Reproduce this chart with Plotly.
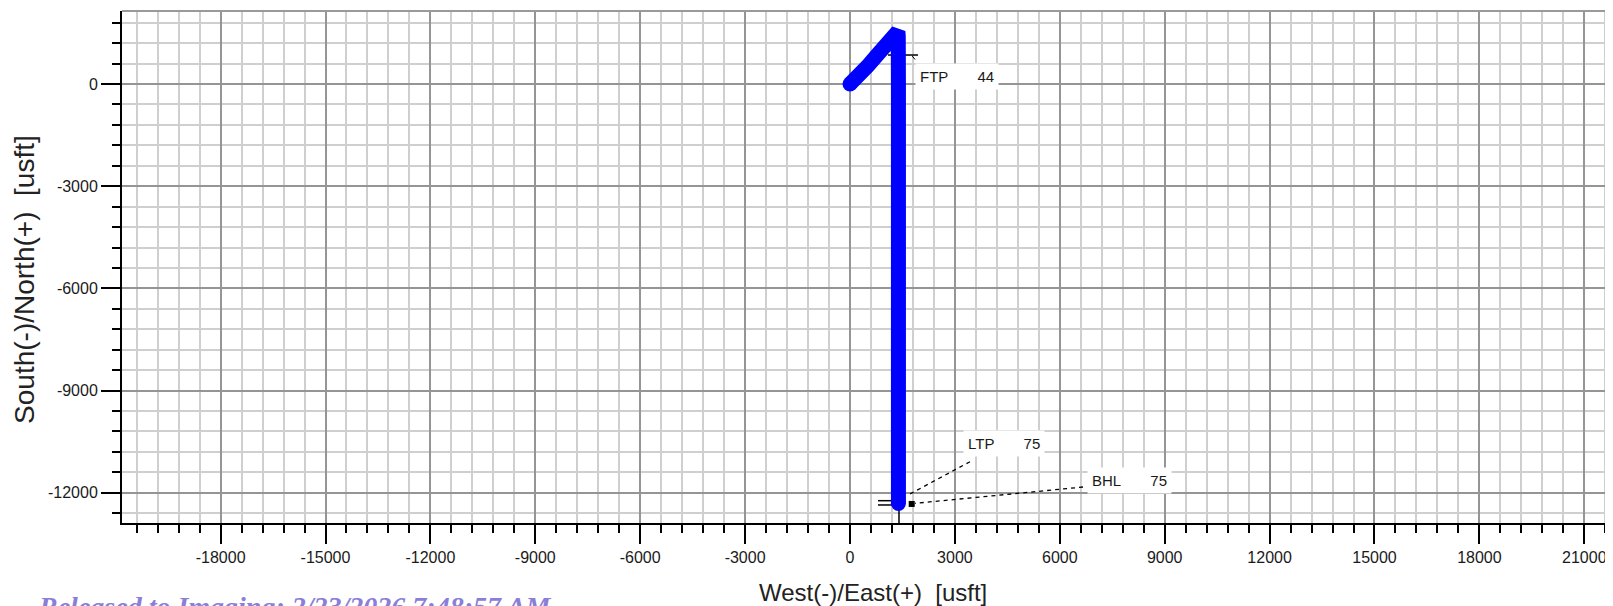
import plotly.graph_objects as go

# ---- data ----
east = [0, 200, 500, 800, 1100, 1300, 1370, 1380, 1385, 1385]
north = [0, 180, 520, 880, 1230, 1470, 1540, 1400, 0, -12310]

label_names = ["FTP", "LTP", "BHL"]
label_values = ["44", "75", "75"]
label_east = [1859, 3232, 6778]
label_north = [235, -10551, -11637]

ltp_leader_e = [3432, 1659]
ltp_leader_n = [-11087, -12065]
bhl_leader_e = [6663, 1859]
bhl_leader_n = [-11830, -12309]

ftp_line_e = [1087, 1945]
ftp_line_n = [851, 851]
ftp_tick_e = [1780, 1860]
ftp_tick_n = [820, 720]

bhl_bar1_e = [801, 1430]
bhl_bar1_n = [-12231, -12231]
bhl_bar2_e = [801, 1430]
bhl_bar2_n = [-12357, -12357]
bhl_stem_e = [1401, 1401]
bhl_stem_n = [-12310, -13200]
bhl_mark_e = [1765]
bhl_mark_n = [-12327]

x_tick_vals = [-18000, -15000, -12000, -9000, -6000, -3000, 0, 3000, 6000,
               9000, 12000, 15000, 18000, 21000]
x_tick_text = ["-18000", "-15000", "-12000", "-9000", "-6000", "-3000", "0",
               "3000", "6000", "9000", "12000", "15000", "18000", "21000"]
y_tick_vals = [-12000, -9000, -6000, -3000, 0]
y_tick_text = ["-12000", "-9000", "-6000", "-3000", "0"]

x_range = [-20820, 21821]
y_range = [-12886, 2143]

FONT = "Liberation Sans, Arial, sans-serif"

fig = go.Figure()

black = dict(color="black", width=1.5)
dash = dict(color="black", width=1.3, dash="4px,4px")
for xs, ys, ln in [
    (ftp_line_e, ftp_line_n, black),
    (ftp_tick_e, ftp_tick_n, dict(color="black", width=1)),
    (bhl_bar1_e, bhl_bar1_n, black),
    (bhl_bar2_e, bhl_bar2_n, black),
    (bhl_stem_e, bhl_stem_n, black),
    (ltp_leader_e, ltp_leader_n, dash),
    (bhl_leader_e, bhl_leader_n, dash),
]:
    fig.add_trace(go.Scatter(x=xs, y=ys, mode="lines", line=ln,
                             hoverinfo="skip", showlegend=False))

fig.add_trace(go.Scatter(x=east, y=north, mode="lines",
                         line=dict(color="#0000FF", width=15),
                         hoverinfo="skip", showlegend=False))
fig.add_trace(go.Scatter(x=[east[0], east[-1]], y=[north[0], north[-1]],
                         mode="markers",
                         marker=dict(color="#0000FF", size=15, line=dict(width=0)),
                         hoverinfo="skip", showlegend=False))
fig.add_trace(go.Scatter(x=bhl_mark_e, y=bhl_mark_n, mode="markers",
                         marker=dict(color="black", size=6, symbol="square"),
                         hoverinfo="skip", showlegend=False))

for name, val, xe, yn in zip(label_names, label_values, label_east, label_north):
    fig.add_annotation(x=xe, y=yn, xref="x", yref="y",
                       text=name + "\u00a0" * 7 + val,
                       showarrow=False, xanchor="left", yanchor="middle",
                       align="left", bgcolor="white", borderpad=4,
                       font=dict(family=FONT, size=15, color="#1a1a1a"))

# axis titles
fig.add_annotation(x=0.5037, y=-0.1367, xref="paper", yref="paper",
                   text="West(-)/East(+)\u00a0\u00a0[usft]", showarrow=False,
                   xanchor="center", yanchor="middle",
                   font=dict(family=FONT, size=24, color="#222222"))
fig.add_annotation(x=-0.0651, y=0.4766, xref="paper", yref="paper",
                   text="South(-)/North(+)\u00a0\u00a0[usft]", showarrow=False,
                   textangle=-90, xanchor="center", yanchor="middle",
                   font=dict(family=FONT, size=28, color="#222222"))
fig.add_annotation(x=-0.0578, y=-0.1289, xref="paper", yref="paper",
                   text="<b><i>Released to Imaging: 2/23/2026 7:48:57 AM</i></b>",
                   showarrow=False, xanchor="left", yanchor="top",
                   font=dict(family="Liberation Serif, Times New Roman, serif",
                             size=28, color="#8A7ED8"))

# top border
fig.add_shape(type="line", xref="paper", yref="paper", x0=0, x1=1, y0=1, y1=1,
              line=dict(color="#9a9a9a", width=2))

axis_common = dict(
    showline=True, linecolor="black", linewidth=2,
    ticks="outside", ticklen=19, tickwidth=2, tickcolor="black",
    tickmode="array",
    showgrid=True, gridcolor="#959595", gridwidth=2,
    zeroline=False,
    tickfont=dict(family=FONT, size=16, color="#1a1a1a"),
    minor=dict(tickmode="linear", dtick=600, tick0=0, ticks="outside",
               ticklen=8, tickwidth=2, tickcolor="black", showgrid=True,
               gridcolor="#cfcfcf", gridwidth=2),
)

# the page body has an 8px margin, so the figure is offset by 8px
fig.update_layout(
    width=1605, height=598,
    margin=dict(l=114, r=0, t=3, b=83),
    paper_bgcolor="white", plot_bgcolor="white",
    showlegend=False,
    xaxis=dict(range=x_range, tickvals=x_tick_vals, ticktext=x_tick_text,
               **axis_common),
    yaxis=dict(range=y_range, tickvals=y_tick_vals, ticktext=y_tick_text,
               **axis_common),
)

fig.write_html("out.html")
